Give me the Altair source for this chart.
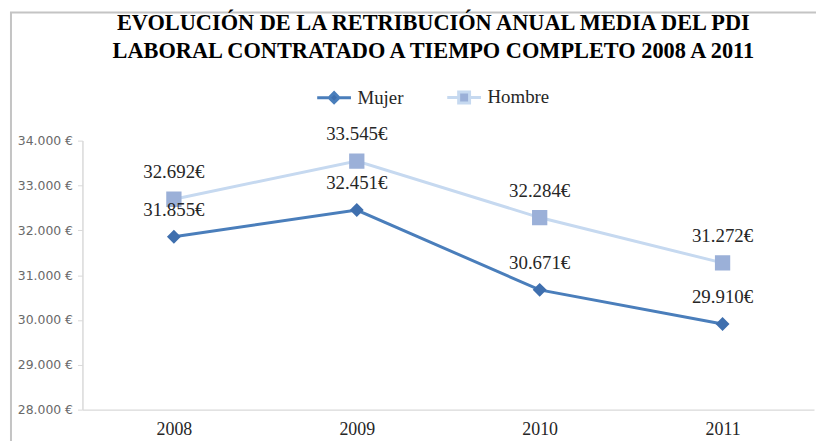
import altair as alt
import pandas as pd

years = ["2008", "2009", "2010", "2011"]
series = ["Mujer", "Hombre"]
mujer = [31855, 32451, 30671, 29910]
hombre = [32692, 33545, 32284, 31272]

line_colors = ["#4a7ebb", "#c6d9f0"]
marker_colors = ["#3f6fae", "#9bb0d8"]
diamond = "M-1.7,0L-0.5,0M0.5,0L1.7,0M-0.5,0L0,-0.5L0.5,0L0,0.5Z"
square = "M-1.7,0L-0.55,0M0.55,0L1.7,0M-0.55,-0.55L0.55,-0.55L0.55,0.55L-0.55,0.55Z"

rows = []
for s, vals in zip(series, [mujer, hombre]):
    for y, v in zip(years, vals):
        rows.append({"year": y, "serie": s, "value": v})
df = pd.DataFrame(rows)

serif = "Liberation Serif"

x_enc = alt.X("year:N", sort=years, title=None,
              scale=alt.Scale(type="point", padding=0.5),
              axis=alt.Axis(labelAngle=0, labelFont=serif, labelFontSize=18,
                            labelColor="#262626", ticks=False, labelPadding=11,
                            domainColor="#d9d9d9", domainWidth=1.5))
y_enc = alt.Y("value:Q", title=None,
              scale=alt.Scale(domain=[28000, 34000], nice=False, zero=False),
              axis=alt.Axis(values=list(range(28000, 34001, 1000)), grid=False,
                            labelExpr="replace(format(datum.value, ',d'), ',', '.') + ' €'",
                            labelFont="DejaVu Sans", labelFontSize=12.5, labelColor="#6a6a6a",
                            tickSize=5, tickColor="#d9d9d9", domainColor="#d9d9d9",
                            domainWidth=1.5, labelPadding=5))

leg = alt.Legend(title=None, orient="none", legendX=242, legendY=-55,
                 direction="horizontal", symbolSize=400, symbolStrokeWidth=3,
                 labelFont=serif, labelFontSize=19, labelColor="#262626",
                 labelOffset=12, columnPadding=37, padding=0)

base = alt.Chart(df).encode(x=x_enc, y=y_enc)

lines = base.mark_line(strokeWidth=3).encode(
    color=alt.Color("serie:N", scale=alt.Scale(domain=series, range=line_colors), legend=leg)
)
points = base.mark_point(filled=True, size=784, strokeWidth=0, opacity=1).encode(
    fill=alt.Fill("serie:N", scale=alt.Scale(domain=series, range=marker_colors), legend=leg),
    shape=alt.Shape("serie:N", scale=alt.Scale(domain=series, range=[diamond, square]), legend=leg),
)
labels = base.mark_text(font=serif, fontSize=19, color="#262626", dy=-27).transform_calculate(
    lab="replace(format(datum.value, ',d'), ',', '.') + '€'"
).encode(text="lab:N")

frame_df = pd.DataFrame({"k": [0]})
left_border = alt.Chart(frame_df).mark_rule(color="#c4c4c4", strokeWidth=2).encode(
    x=alt.value(-72), y=alt.value(-129), y2=alt.value(305))
top_border = alt.Chart(frame_df).mark_rule(color="#c4c4c4", strokeWidth=2).encode(
    x=alt.value(-73), x2=alt.value(745), y=alt.value(-129))

chart = alt.layer(left_border, top_border, lines, points, labels).properties(
    width=737, height=271,
    title=alt.TitleParams(
        ["EVOLUCIÓN DE LA RETRIBUCIÓN ANUAL MEDIA DEL PDI",
         "LABORAL CONTRATADO A TIEMPO COMPLETO 2008 A 2011"],
        font=serif, fontSize=22.5, fontWeight="bold", color="#000000",
        anchor="middle", frame="group", dx=-15, offset=-51, lineHeight=28),
    autosize=alt.AutoSizeParams(type="none"),
    padding={"left": 75, "top": 132, "right": 2, "bottom": 30},
).configure_view(stroke=None)

chart.save("out.html", embed_options={"renderer": "svg", "actions": False})
